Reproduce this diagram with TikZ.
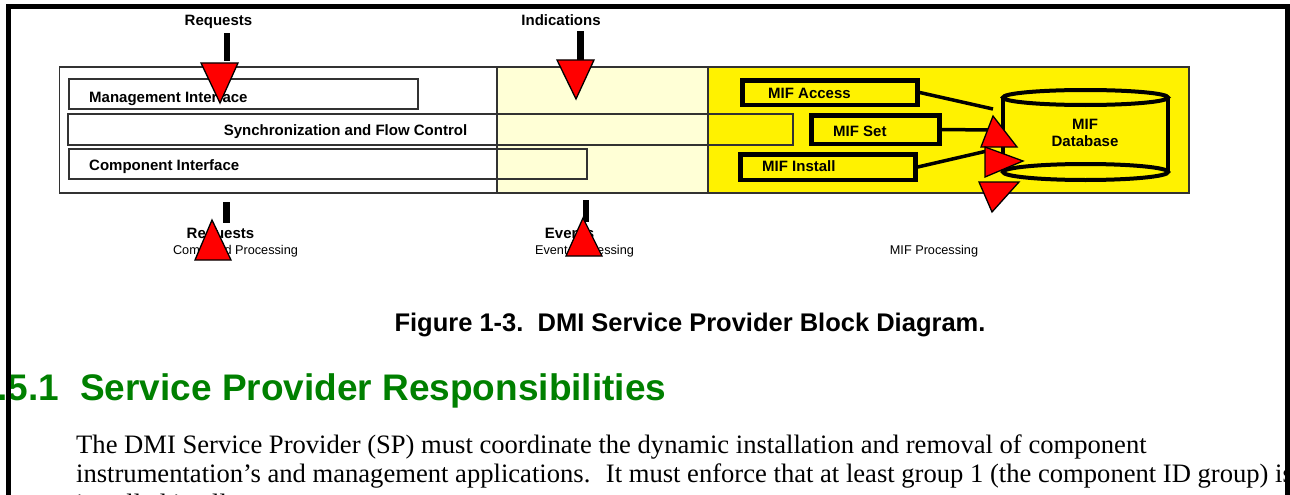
\documentclass[tikz,border=0pt]{standalone}
\usepackage{fontspec}
\setmainfont{Liberation Sans}
\newfontfamily\seriffam{Liberation Serif}
\definecolor{paleyellow}{RGB}{255,255,214}
\definecolor{hdgreen}{RGB}{0,128,0}
\definecolor{boxline}{RGB}{50,50,50}
\begin{document}
\begin{tikzpicture}[x=1pt,y=-1pt,
  thinbox/.style={draw=boxline, line width=1.2pt, rectangle, inner sep=0pt},
  mifbox/.style={draw=black, line width=4.5pt, fill=yellow, rectangle, inner sep=0pt},
  lbl/.style={font=\fontsize{15}{17}\selectfont\bfseries, inner sep=0pt, anchor=base west},
  lblc/.style={font=\fontsize{15}{17}\selectfont\bfseries, inner sep=0pt, anchor=base},
  smalltxt/.style={font=\fontsize{12.7}{15}\selectfont, inner sep=0pt, anchor=base},
  redtri/.style={fill=red, draw=black, line width=1.3pt, line join=miter},
  stembar/.style={fill=black},
  conn/.style={line width=3.5pt},
  cyl/.style={line width=4pt}
]
\useasboundingbox (0,0) rectangle (1290,495);
\fill[white] (0,0) rectangle (1290,495);

% region fills
\node[thinbox, fill=white, minimum width=1129.5pt, minimum height=126pt] (diag) at (624.25,130) {};
\fill[paleyellow] (497,67) rectangle (708,193);
\fill[yellow] (708,67) rectangle (1189,193);
\draw[boxline, line width=1.2pt] (59.5,67) rectangle (1189,193);
\draw[boxline, line width=1.2pt] (497,67) -- (497,193);
\draw[boxline, line width=1.2pt] (708,67) -- (708,193);

% interface boxes
\node[thinbox, minimum width=349pt, minimum height=30pt] (mgmt) at (243.5,94) {};
\node[thinbox, minimum width=725pt, minimum height=31pt] (sync) at (430.5,129.5) {};
\node[thinbox, minimum width=518pt, minimum height=30pt] (comp) at (328,164) {};
\node[lbl] (mgmtT) at (89,102) {Management Interface};
\node[lblc] (syncT) at (345.5,135) {Synchronization and Flow Control};
\node[lbl] (compT) at (89,170) {Component Interface};

% MIF boxes
\node[mifbox, minimum width=175pt, minimum height=24.5pt] (acc) at (830,92.5) {};
\node[mifbox, minimum width=128pt, minimum height=28.5pt] (set) at (875.5,129.5) {};
\node[mifbox, minimum width=175pt, minimum height=25.5pt] (inst) at (828,167) {};
\node[lbl] (accT) at (768,98) {MIF Access};
\node[lbl] (setT) at (833,136) {MIF Set};
\node[lbl] (instT) at (762,171) {MIF Install};

% cylinder
\fill[yellow] (1003,97.5) rectangle (1168,172);
\draw[cyl] (1003,97.5) -- (1003,172);
\draw[cyl] (1168,97.5) -- (1168,172);
\draw[cyl] (1085.5,97.5) ellipse [x radius=82.5pt, y radius=7.5pt];
\draw[cyl] (1085.5,172) ellipse [x radius=82.5pt, y radius=8pt];
\node[font=\fontsize{15}{17}\selectfont\bfseries, align=center, inner sep=0pt] (db) at (1085,132.5) {MIF\\Database};

% connectors
\coordinate (accEnd) at (993,109);
\coordinate (setEnd) at (989,130);
\coordinate (instEnd) at (987,151);
\draw[conn] (acc.east) -- (accEnd);
\draw[conn] (set.east) -- (setEnd);
\draw[conn] (inst.east) -- (instEnd);

% labels
\node[lblc] (reqTop) at (218.5,26) {Requests};
\node[lblc] (indTop) at (561,26) {Indications};
\node[lblc] (reqBot) at (220.5,238) {Requests};
\node[smalltxt] (cmdP) at (235.5,254) {Command Processing};
\node[lblc] (evBot) at (569.5,238) {Events};
\node[smalltxt] (evP) at (584.5,254) {Event Processing};
\node[smalltxt] (mifP) at (934,254) {MIF Processing};

% arrows top
\fill[stembar] (223.5,33) rectangle (229.5,61);
\draw[redtri] (201,63) -- (238,63) -- (220,103) -- cycle;
\fill[stembar] (577,31) rectangle (584,60);
\draw[redtri] (557,60) -- (594,60) -- (576,99) -- cycle;
% arrows bottom
\fill[stembar] (223,202) rectangle (230,223);
\draw[redtri] (212,220) -- (231,260) -- (195,260) -- cycle;
\fill[stembar] (583,200) rectangle (589,222);
\draw[redtri] (583,218) -- (602,256) -- (566,256) -- cycle;
% arrows at database
\draw[redtri] (993,116) -- (1017,147) -- (981,147) -- cycle;
\draw[redtri] (985,147) -- (1023,161) -- (985,177) -- cycle;
\draw[redtri] (979,182) -- (1019,182) -- (992,212) -- cycle;

% caption and text
\node[font=\fontsize{25.5}{30}\selectfont\bfseries, anchor=base, inner sep=0pt] (cap) at (690,331) {Figure 1-3.~~DMI Service Provider Block Diagram.};
\node[font=\fontsize{37}{42}\selectfont\bfseries, text=hdgreen, anchor=base west, inner sep=0pt] (hd) at (80,400) {Service Provider Responsibilities};
\node[font=\fontsize{37}{42}\selectfont\bfseries, text=hdgreen, anchor=base east, inner sep=0pt] (hdnum) at (59.5,400) {1.5.1};
\node[font=\seriffam\fontsize{26.6}{29}\selectfont, anchor=base west, inner sep=0pt] (p1) at (76,453) {The DMI Service Provider (SP) must coordinate the dynamic installation and removal of component};
\node[font=\seriffam\fontsize{26.6}{29}\selectfont, anchor=base west, inner sep=0pt] (p2) at (76,482) {instrumentation’s and management applications.~ It must enforce that at least group 1 (the component ID group) is};
\node[font=\seriffam\fontsize{26.6}{29}\selectfont, anchor=base west, inner sep=0pt] (p3) at (76,512.5) {installed in all components.};

% page frame
\fill[black] (6,4) rectangle (1290,9);
\fill[black] (6,4) rectangle (11,495);
\fill[black] (1285,4) rectangle (1290,495);
\end{tikzpicture}
\end{document}
